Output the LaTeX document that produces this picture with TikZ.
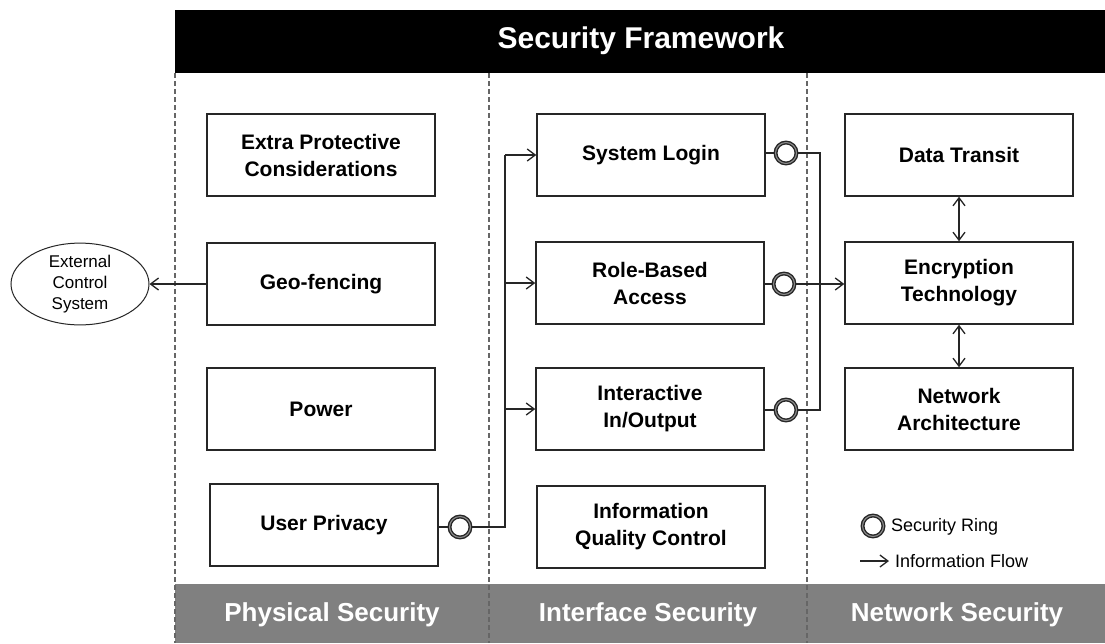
\documentclass[tikz,border=0pt]{standalone}
\usepackage{fontspec}
\setmainfont{Liberation Sans}
\usetikzlibrary{arrows.meta,shapes.geometric}
\begin{document}
\begin{tikzpicture}[x=1pt,y=-1pt,
  box/.style={draw=black!85,line width=1.5pt,minimum width=228pt,minimum height=82pt,inner sep=0pt,align=center,font=\fontsize{21}{27}\selectfont\bfseries},
  ring/.style={circle,draw=black!85,double=black!45,double distance=1.1pt,line width=1.4pt,fill=white,minimum size=21pt,inner sep=0pt},
  conn/.style={line width=1.3pt,draw=black!85},
  flow/.style={conn,-{Straight Barb[length=8pt,width=12pt,line width=1.3pt]}},
  both/.style={conn,{Straight Barb[length=8pt,width=12pt,line width=1.3pt]}-{Straight Barb[length=8pt,width=12pt,line width=1.3pt]}},
  sep/.style={line width=1.2pt,draw=black!60,dash pattern=on 5pt off 3pt},
  band/.style={text=white,font=\fontsize{26}{30}\selectfont\bfseries},
  legend/.style={anchor=west,inner sep=0pt,font=\fontsize{18}{21}\selectfont}
]
\useasboundingbox (0,0) rectangle (1105,643);
\fill[white] (0,0) rectangle (1105,643);
% header and footer
\fill[black] (175,10) rectangle (1105,73);
\node[text=white,font=\fontsize{30}{36}\selectfont\bfseries] (title) at (641,41) {Security Framework};
\fill[black!50] (175,584) rectangle (1105,643);
\node[band] (phys) at (332,615) {Physical Security};
\node[band] (intf) at (648,615) {Interface Security};
\node[band] (netw) at (957,615) {Network Security};
% column separators
\draw[sep] (175,73) -- (175,643);
\draw[sep] (489,73) -- (489,643);
\draw[sep] (807,73) -- (807,643);
% physical column
\node[box] (ext) at (321,155) {Extra Protective\\Considerations};
\node[box] (geo) at (321,284) {Geo-fencing};
\node[box] (power) at (321,409) {Power};
\node[box] (priv) at (324,525) {User Privacy};
% interface column
\node[box] (login) at (651,155) {System Login};
\node[box] (role) at (650,283) {Role-Based\\Access};
\node[box] (inter) at (650,409) {Interactive\\In/Output};
\node[box] (iqc) at (651,527) {Information\\Quality Control};
% network column
\node[box] (data) at (959,155) {Data Transit};
\node[box] (enc) at (959,283) {Encryption\\Technology};
\node[box] (net) at (959,409) {Network\\Architecture};
% external
\node[ellipse,draw=black!85,line width=1pt,minimum width=138pt,minimum height=76pt,inner sep=0pt,align=center,font=\fontsize{17}{21}\selectfont] (ecs) at (80,284) {External\\Control\\System};
\draw[flow] (geo.west) -- (ecs.east);
% user privacy feed
\node[ring] (rp) at (460,527) {};
\coordinate (bus) at (505,527);
\draw[conn] (priv.east |- rp) -- (rp.west);
\draw[conn] (rp.east) -- (bus) -- (bus |- login.west);
\draw[flow] (bus |- login.west) -- (login.west);
\draw[flow] (bus |- role.west) -- (role.west);
\draw[flow] (bus |- inter.west) -- (inter.west);
% rings on the interface side
\node[ring] (r1) at (786,153) {};
\node[ring] (r2) at (784,284) {};
\node[ring] (r3) at (786,410) {};
\draw[conn] (login.east |- r1) -- (r1.west);
\draw[conn] (role.east |- r2) -- (r2.west);
\draw[conn] (inter.east |- r3) -- (r3.west);
\coordinate (rbus) at (820,153);
\draw[conn] (r1.east) -- (rbus) -- (rbus |- r3) -- (r3.east);
\draw[flow] (r2.east) -- (enc.west |- r2);
% network links
\draw[both] (data.south) -- (enc.north);
\draw[both] (enc.south) -- (net.north);
% legend
\node[ring] (lr) at (873,526) {};
\node[legend] (lrt) at (891,527) {Security Ring};
\coordinate (la1) at (860,561);
\coordinate (la2) at (889,561);
\draw[flow] (la1) -- (la2);
\node[legend] (lat) at (895,561) {Information Flow};
\end{tikzpicture}
\end{document}
